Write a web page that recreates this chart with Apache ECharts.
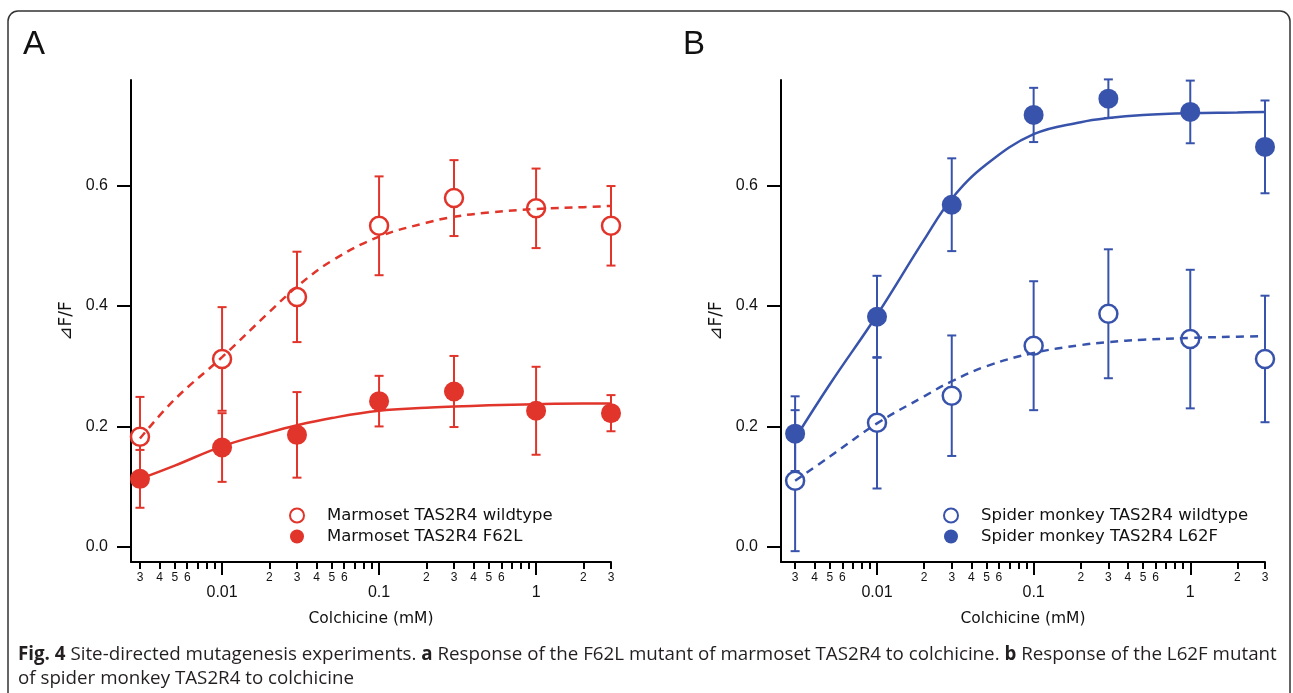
<!DOCTYPE html>
<html>
<head>
<meta charset="utf-8">
<script src="https://cdn.jsdelivr.net/npm/echarts@6/dist/echarts.min.js"></script>
<style>
html, body { margin: 0; padding: 0; background: #fff; }
#chart { width: 1293px; height: 693px; }
</style>
</head>
<body>
<div id="chart"></div>
<script>
// concentrations (mM) of the measured points
var conc = [0.003, 0.01, 0.03, 0.1, 0.3, 1, 3];

// A: marmoset
var aWt = [0.183, 0.312, 0.415, 0.533, 0.579, 0.562, 0.533];
var aWtErr = [0.066, 0.086, 0.075, 0.082, 0.063, 0.066, 0.066];
var aMut = [0.113, 0.165, 0.186, 0.242, 0.258, 0.226, 0.222];
var aMutErr = [0.048, 0.057, 0.071, 0.042, 0.059, 0.073, 0.030];

// B: spider monkey
var bWt = [0.110, 0.206, 0.251, 0.334, 0.387, 0.345, 0.312];
var bWtErr = [0.117, 0.109, 0.100, 0.107, 0.107, 0.115, 0.105];
var bMut = [0.188, 0.382, 0.568, 0.717, 0.744, 0.722, 0.664];
var bMutErr = [0.062, 0.068, 0.077, 0.045, 0.032, 0.052, 0.077];

// fitted curves
var fitConc = [0.003, 0.005, 0.01, 0.02, 0.03, 0.05, 0.1, 0.2, 0.3, 0.5, 1, 2, 3];
var aWtFit = [0.180, 0.245, 0.315, 0.390, 0.432, 0.475, 0.515, 0.538, 0.548, 0.555, 0.561, 0.564, 0.566];
var aMutFit = [0.113, 0.135, 0.167, 0.190, 0.202, 0.214, 0.226, 0.231, 0.233, 0.235, 0.237, 0.238, 0.238];
var bWtFit = [0.110, 0.150, 0.205, 0.250, 0.275, 0.300, 0.322, 0.335, 0.340, 0.344, 0.347, 0.349, 0.350];
var bMutFit = [0.180, 0.270, 0.385, 0.510, 0.578, 0.635, 0.685, 0.705, 0.712, 0.717, 0.720, 0.721, 0.722];

// axis ticks
var yTicks = [0, 0.2, 0.4, 0.6];
var majorTicks = [0.01, 0.1, 1];
var majorLabels = ['0.01', '0.1', '1'];
var minorTicks = [0.003, 0.004, 0.005, 0.006, 0.007, 0.008, 0.009,
                  0.02, 0.03, 0.04, 0.05, 0.06, 0.07, 0.08, 0.09,
                  0.2, 0.3, 0.4, 0.5, 0.6, 0.7, 0.8, 0.9, 2, 3];
var minorLabeled = [0.003, 0.004, 0.005, 0.006, 0.02, 0.03, 0.04, 0.05, 0.06,
                    0.2, 0.3, 0.4, 0.5, 0.6, 2, 3];

var red = '#e1342a';
var blue = '#3853ab';
var axisFont = 'Liberation Sans';
var textFont = 'DejaVu Sans';

var lg = function (v) { return Math.log10(v); };

function pairs(xs, ys) {
  return xs.map(function (x, i) { return [lg(x), ys[i]]; });
}
function triples(xs, ys, es) {
  return xs.map(function (x, i) { return [lg(x), ys[i], es[i]]; });
}

function majorAxis(grid, min) {
  return {
    type: 'value', gridIndex: grid, position: 'bottom', min: min, max: lg(3),
    name: 'Colchicine (mM)', nameLocation: 'middle', nameGap: 49,
    nameTextStyle: { fontSize: 15.5, color: '#111', fontFamily: textFont },
    axisLine: { show: true, onZero: false, lineStyle: { color: '#000', width: 2 } },
    axisTick: { show: true, length: 13, customValues: majorTicks.map(lg),
                lineStyle: { color: '#000', width: 2 } },
    axisLabel: { customValues: majorTicks.map(lg), margin: 23, fontSize: 16,
                 color: '#111', fontFamily: axisFont,
                 formatter: function (v) {
                   var i = majorTicks.findIndex(function (t) { return Math.abs(lg(t) - v) < 1e-6; });
                   return i < 0 ? '' : majorLabels[i];
                 } },
    splitLine: { show: false }
  };
}

function minorAxis(grid, min) {
  return {
    type: 'value', gridIndex: grid, position: 'bottom', offset: 0, min: min, max: lg(3),
    axisLine: { show: false, onZero: false },
    axisTick: { show: true, length: 7, customValues: minorTicks.map(lg),
                lineStyle: { color: '#000', width: 2 } },
    axisLabel: { customValues: minorLabeled.map(lg), margin: 10, fontSize: 12,
                 color: '#111', fontFamily: axisFont,
                 formatter: function (v) {
                   var c = Math.pow(10, v);
                   return String(Math.round(c / Math.pow(10, Math.floor(v + 1e-9))));
                 } },
    splitLine: { show: false }
  };
}

function yAxis(grid) {
  return {
    type: 'value', gridIndex: grid, min: -0.025, max: 0.775,
    name: '⊿F/F', nameLocation: 'middle', nameGap: 56, nameRotate: 90,
    nameMoveOverlap: false,
    nameTextStyle: { fontSize: 17, color: '#111', fontFamily: textFont },
    axisLine: { show: true, onZero: false, lineStyle: { color: '#000', width: 2 } },
    axisTick: { show: true, length: 14, customValues: yTicks,
                lineStyle: { color: '#000', width: 2 } },
    axisLabel: { customValues: yTicks, margin: 23, fontSize: 16, color: '#111',
                 fontFamily: axisFont,
                 formatter: function (v) { return v.toFixed(1); } },
    splitLine: { show: false }
  };
}

function errorBars(xi, yi, color, data, gap) {
  return {
    type: 'custom', xAxisIndex: xi, yAxisIndex: yi, z: 3, silent: true,
    encode: { x: 0, y: 1 },
    data: data,
    renderItem: function (params, api) {
      var x = api.value(0), y = api.value(1), e = api.value(2);
      var c = api.coord([x, y]);
      var t = api.coord([x, y + e]);
      var b = api.coord([x, y - e]);
      var hw = 4.5;
      var st = function () { return { stroke: color, lineWidth: 2 }; };
      var kids = [
        { type: 'line', shape: { x1: t[0] - hw, y1: t[1], x2: t[0] + hw, y2: t[1] }, style: st() },
        { type: 'line', shape: { x1: b[0] - hw, y1: b[1], x2: b[0] + hw, y2: b[1] }, style: st() }
      ];
      if (gap) {
        kids.push({ type: 'line', shape: { x1: c[0], y1: t[1], x2: c[0], y2: c[1] - gap }, style: st() });
        kids.push({ type: 'line', shape: { x1: c[0], y1: c[1] + gap, x2: c[0], y2: b[1] }, style: st() });
      } else {
        kids.push({ type: 'line', shape: { x1: c[0], y1: t[1], x2: c[0], y2: b[1] }, style: st() });
      }
      return { type: 'group', children: kids };
    }
  };
}

function panel(xi, yi, color, names, wt, wtErr, mut, mutErr, wtFit, mutFit) {
  return [
    { type: 'line', xAxisIndex: xi, yAxisIndex: yi, data: pairs(fitConc, wtFit),
      smooth: 0.4, showSymbol: false, silent: true, z: 2,
      lineStyle: { color: color, width: 2.5, type: [8, 6] } },
    { type: 'line', xAxisIndex: xi, yAxisIndex: yi, data: pairs(fitConc, mutFit),
      smooth: 0.4, showSymbol: false, silent: true, z: 2,
      lineStyle: { color: color, width: 2.5 } },
    errorBars(xi, yi, color, triples(conc, wt, wtErr), 9),
    errorBars(xi, yi, color, triples(conc, mut, mutErr), 0),
    { type: 'scatter', name: names[0], xAxisIndex: xi, yAxisIndex: yi, z: 5,
      data: pairs(conc, wt), symbol: 'circle', symbolSize: 18,
      itemStyle: { color: 'rgba(255,255,255,0)', borderColor: color, borderWidth: 2.5, opacity: 1 } },
    { type: 'scatter', name: names[1], xAxisIndex: xi, yAxisIndex: yi, z: 5,
      data: pairs(conc, mut), symbol: 'circle', symbolSize: 20,
      itemStyle: { color: color, opacity: 1 } }
  ];
}

var namesA = ['Marmoset TAS2R4 wildtype', 'Marmoset TAS2R4 F62L'];
var namesB = ['Spider monkey TAS2R4 wildtype', 'Spider monkey TAS2R4 L62F'];

var legendBase = {
  orient: 'vertical', itemWidth: 50, itemHeight: 14, itemGap: 4,
  textStyle: { fontSize: 16.5, color: '#111', fontFamily: textFont },
  selectedMode: false
};

var option = {
  animation: false,
  backgroundColor: '#fff',
  grid: [
    { left: 131, top: 80, width: 480, height: 482 },
    { left: 781, top: 80, width: 484, height: 482 }
  ],
  xAxis: [majorAxis(0, -2.58), minorAxis(0, -2.58), majorAxis(1, -2.613), minorAxis(1, -2.613)],
  yAxis: [yAxis(0), yAxis(1)],
  legend: [
    Object.assign({}, legendBase, { data: namesA, left: 284, top: 502 }),
    Object.assign({}, legendBase, { data: namesB, left: 938, top: 502 })
  ],
  graphic: [
    { type: 'rect', silent: true, z: -1,
      shape: { x: 8, y: 11, width: 1282, height: 700, r: 10 },
      style: { fill: 'none', stroke: '#333', lineWidth: 1.5 } },
    { type: 'text', left: 23, top: 28,
      style: { text: 'A', fontSize: 33, fontFamily: 'Liberation Sans', fill: '#111' } },
    { type: 'text', left: 683, top: 28,
      style: { text: 'B', fontSize: 33, fontFamily: 'Liberation Sans', fill: '#111' } },
    { type: 'text', left: 18, top: 643,
      style: {
        text: '{b|Fig. 4} Site-directed mutagenesis experiments. {b|a} Response of the F62L mutant of marmoset TAS2R4 to colchicine. {b|b} Response of the L62F mutant\nof spider monkey TAS2R4 to colchicine',
        fontSize: 18.75, fontFamily: 'Open Sans', fill: '#231f20', lineHeight: 24,
        rich: { b: { fontWeight: 'bold', fontSize: 18.75, fontFamily: 'Open Sans', lineHeight: 24 } }
      } }
  ],
  series: [].concat(
    panel(0, 0, red, namesA, aWt, aWtErr, aMut, aMutErr, aWtFit, aMutFit),
    panel(2, 1, blue, namesB, bWt, bWtErr, bMut, bMutErr, bWtFit, bMutFit)
  )
};

var chart = echarts.init(document.getElementById('chart'));
chart.setOption(option);
</script>
</body>
</html>
